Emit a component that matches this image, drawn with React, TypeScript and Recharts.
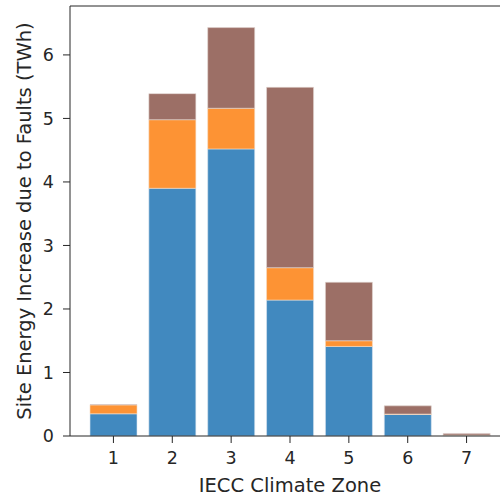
import React from 'react';
import { BarChart, Bar, XAxis, YAxis, ReferenceLine, Label } from 'recharts';

const zones = ['1', '2', '3', '4', '5', '6', '7'];
const baseline = [0.35, 3.9, 4.52, 2.14, 1.41, 0.34, 0.01];
const middle = [0.14, 1.08, 0.64, 0.51, 0.09, 0.005, 0.005];
const upper = [0.005, 0.41, 1.27, 2.84, 0.92, 0.13, 0.025];
const yTicks = [0, 1, 2, 3, 4, 5, 6];
const yMax = 6.77;

const data = zones.map((zone, i) => ({
  zone,
  baseline: baseline[i],
  middle: middle[i],
  upper: upper[i],
}));

const font = 'DejaVu Sans, sans-serif';
const ink = '#262626';

const App: React.FC = () => {
  return (
    <div
      style={{
        position: 'absolute',
        left: 0,
        top: 0,
        width: 500,
        height: 495,
        overflow: 'hidden',
        background: '#fff',
      }}
    >
      <BarChart
        width={520}
        height={495}
        data={data}
        margin={{ top: 6, right: 10, left: 30, bottom: 0 }}
      >
        <XAxis
          dataKey="zone"
          height={59}
          padding={{ left: 14, right: 14 }}
          tickSize={7}
          tickMargin={9}
          stroke={ink}
          tick={{ fill: ink, fontSize: 17.5, fontFamily: font }}
          tickLine={{ stroke: ink }}
        >
          <Label
            content={({ viewBox }: any) => (
              <text
                x={viewBox.x + viewBox.width / 2}
                y={viewBox.y + 56}
                textAnchor="middle"
                fill={ink}
                fontSize={19.5}
                fontFamily={font}
              >
                IECC Climate Zone
              </text>
            )}
          />
        </XAxis>
        <YAxis
          width={40}
          domain={[0, yMax]}
          ticks={yTicks}
          tickSize={7}
          tickMargin={9}
          stroke={ink}
          tick={{ fill: ink, fontSize: 17.5, fontFamily: font }}
          tickLine={{ stroke: ink }}
        >
          <Label
            content={({ viewBox }: any) => {
              const cx = 31;
              const cy = viewBox.y + viewBox.height / 2;
              return (
                <text
                  x={cx}
                  y={cy}
                  transform={`rotate(-90, ${cx}, ${cy})`}
                  textAnchor="middle"
                  fill={ink}
                  fontSize={19.5}
                  fontFamily={font}
                >
                  Site Energy Increase due to Faults (TWh)
                </text>
              );
            }}
          />
        </YAxis>
        <ReferenceLine y={yMax} stroke={ink} strokeWidth={1} />
        <Bar dataKey="baseline" stackId="a" fill="#4189bf" stroke="#dbe6f0" strokeWidth={0.6} barSize={47} isAnimationActive={false} />
        <Bar dataKey="middle" stackId="a" fill="#fd9334" stroke="#f5dcc4" strokeWidth={0.6} barSize={47} isAnimationActive={false} />
        <Bar dataKey="upper" stackId="a" fill="#9c6f66" stroke="#e3d6d3" strokeWidth={0.6} barSize={47} isAnimationActive={false} />
      </BarChart>
    </div>
  );
};

export default App;
